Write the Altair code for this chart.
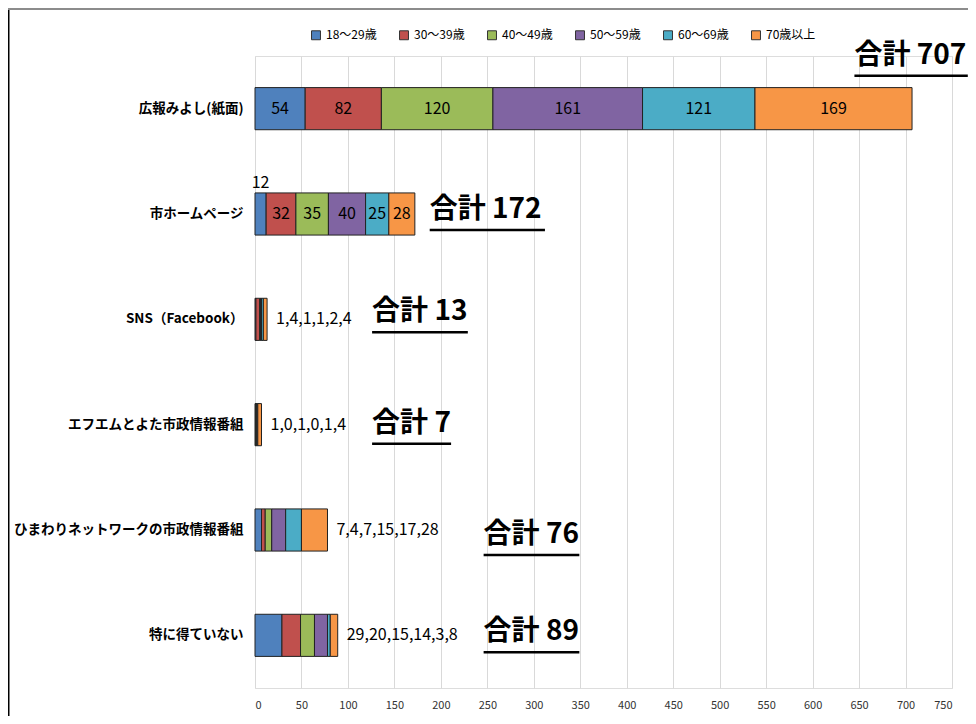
import altair as alt
import pandas as pd

categories = ["広報みよし(紙面)", "市ホームページ", "SNS（Facebook）",
              "エフエムとよた市政情報番組", "ひまわりネットワークの市政情報番組", "特に得ていない"]
ages = ["18〜29歳", "30〜39歳", "40〜49歳", "50〜59歳", "60〜69歳", "70歳以上"]

v_18_29 = [54, 12, 1, 1, 7, 29]
v_30_39 = [82, 32, 4, 0, 4, 20]
v_40_49 = [120, 35, 1, 1, 7, 15]
v_50_59 = [161, 40, 1, 0, 15, 14]
v_60_69 = [121, 25, 2, 1, 17, 3]
v_70_up = [169, 28, 4, 4, 28, 8]
totals = [707, 172, 13, 7, 76, 89]

x_ticks = list(range(0, 751, 50))

# annotation layout (data units / pixel offsets)
total_label_x = [645, 188, 126, 126, 246, 246]
total_label_w = [122, 124, 103, 85, 103, 103]
total_label_dy = [-53, -4, -7, -1, 5, -3]

colors = ["#4F81BD", "#C0504D", "#9BBB59", "#8064A2", "#4BACC6", "#F79646"]
FONT = "Noto Sans CJK JP"

series = [v_18_29, v_30_39, v_40_49, v_50_59, v_60_69, v_70_up]
rows = []
for i, cat in enumerate(categories):
    acc = 0
    for j, age in enumerate(ages):
        v = series[j][i]
        rows.append({"category": cat, "age": age, "order": j, "value": v,
                     "start": acc, "end": acc + v, "mid": acc + v / 2, "row": i})
        acc += v
df = pd.DataFrame(rows)

ysc = alt.Scale(domain=categories, paddingInner=0.6, paddingOuter=0.3)
xsc = alt.Scale(domain=[0, 750], nice=False)

Y = alt.Y("category:N", sort=categories, scale=ysc,
          axis=alt.Axis(title=None, ticks=False, domain=False, labelFont=FONT,
                        labelFontWeight="bold", labelFontSize=13.5, labelColor="#000000",
                        labelPadding=12, labelLimit=400))

bars = alt.Chart(df).mark_bar(stroke="#222222", strokeWidth=1).encode(
    y=Y,
    x=alt.X("start:Q", scale=xsc,
            axis=alt.Axis(title=None, values=x_ticks, grid=True, gridColor="#D9D9D9",
                          domain=False, ticks=False, labelFontSize=11, labelColor="#333333",
                          labelPadding=11, labelFont=FONT)),
    x2="end:Q",
    color=alt.Color("age:N", sort=ages, scale=alt.Scale(domain=ages, range=colors),
                    legend=alt.Legend(title=None, orient="none", direction="horizontal",
                                      columns=6, legendX=55, legendY=-27,
                                      symbolType="square", symbolSize=80,
                                      symbolStrokeColor="#333333", symbolStrokeWidth=1,
                                      labelFontSize=12, labelFont=FONT, labelColor="#000000",
                                      columnPadding=20, labelOffset=4)),
    order=alt.Order("order:Q"),
)

inbar_df = df[(df["row"] <= 1) & ~((df["row"] == 1) & (df["order"] == 0))]
inbar = alt.Chart(inbar_df).mark_text(fontSize=16, font=FONT, color="#000000").encode(
    y=alt.Y("category:N", sort=categories, scale=ysc),
    x=alt.X("mid:Q", scale=xsc),
    text="value:Q",
)

above_df = df[(df["row"] == 1) & (df["order"] == 0)]
above = alt.Chart(above_df).mark_text(fontSize=16, font=FONT, color="#000000", dy=-31).encode(
    y=alt.Y("category:N", sort=categories, scale=ysc),
    x=alt.X("mid:Q", scale=xsc),
    text="value:Q",
)

comma_rows = []
for i in range(2, 6):
    comma_rows.append({"category": categories[i],
                       "end": sum(s[i] for s in series),
                       "txt": ",".join(str(s[i]) for s in series)})
comma_df = pd.DataFrame(comma_rows)
comma = alt.Chart(comma_df).mark_text(fontSize=16, font=FONT, color="#000000",
                                      align="left", dx=9).encode(
    y=alt.Y("category:N", sort=categories, scale=ysc),
    x=alt.X("end:Q", scale=xsc),
    text="txt:N",
)

layers = [bars, inbar, above, comma]
for i in range(6):
    tdf = pd.DataFrame([{"category": categories[i], "x": total_label_x[i],
                         "x2": total_label_x[i] + total_label_w[i],
                         "txt": f"合計 {totals[i]}"}])
    t = alt.Chart(tdf).mark_text(fontSize=28, font=FONT, fontWeight="bold", color="#000000",
                                 align="left", baseline="middle", dy=total_label_dy[i]).encode(
        y=alt.Y("category:N", sort=categories, scale=ysc),
        x=alt.X("x:Q", scale=xsc),
        text="txt:N",
    )
    u = alt.Chart(tdf).mark_rule(color="#000000", strokeWidth=2.5,
                                 yOffset=total_label_dy[i] + 20).encode(
        y=alt.Y("category:N", sort=categories, scale=ysc),
        x=alt.X("x:Q", scale=xsc),
        x2="x2:Q",
    )
    layers += [t, u]

frame_left = alt.Chart(pd.DataFrame({"a": [0]})).mark_rule(color="#000000", strokeWidth=2).encode(
    x=alt.value(-246.5), y=alt.value(-47), y2=alt.value(700))
frame_top = alt.Chart(pd.DataFrame({"a": [0]})).mark_rule(color="#8C8C8C", strokeWidth=2).encode(
    x=alt.value(-247), x2=alt.value(730), y=alt.value(-47))
layers += [frame_left, frame_top]

chart = alt.layer(*layers).properties(
    width=697, height=632,
    autosize=alt.AutoSizeParams(type="none"),
    padding={"left": 247, "top": 48, "right": 16, "bottom": 28},
).configure_view(strokeWidth=0).configure(font=FONT)

chart.save("out.html", embed_options={"renderer": "svg", "actions": False})
